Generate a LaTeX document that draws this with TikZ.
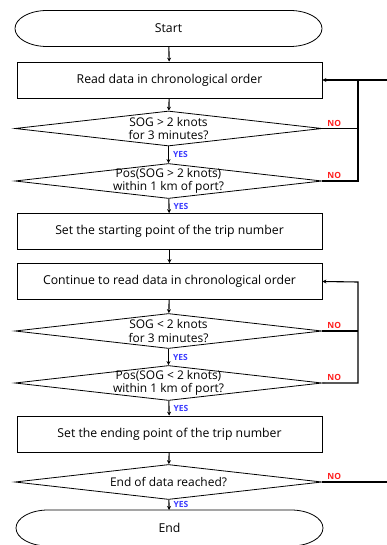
\documentclass[tikz,border=0pt]{standalone}
\usepackage{fontspec}
\setmainfont{Open Sans}
\usetikzlibrary{shapes.geometric,arrows.meta}
\definecolor{yesblue}{RGB}{60,60,255}
\definecolor{nored}{RGB}{255,30,30}
\tikzset{
  procbox/.style={draw, line width=0.8bp, minimum width=305bp, minimum height=36bp, font=\fontsize{12.3}{14}\selectfont},
  decision/.style={draw, shape=diamond, line width=0.8bp, aspect=8.8, minimum width=307bp, minimum height=35bp,
    inner xsep=-24bp, inner ysep=-7bp, align=center, font=\fontsize{12}{13.5}\selectfont},
  terminal/.style={minimum width=307bp, minimum height=36bp, inner sep=0pt, outer sep=0pt, font=\fontsize{12.3}{14}\selectfont,
    append after command={\pgfextra{\let\tnode\tikzlastnode
      \draw[line width=0.8bp] ([xshift=32bp]\tnode.north west) -- ([xshift=-32bp]\tnode.north east)
        arc[start angle=90, end angle=-90, x radius=32bp, y radius=18bp]
        -- ([xshift=32bp]\tnode.south west)
        arc[start angle=270, end angle=90, x radius=32bp, y radius=18bp] -- cycle;}}},
  link/.style={line width=1.1bp},
  flow/.style={link, -{Stealth[length=4bp,width=4bp]}},
  yeslab/.style={right, xshift=2bp, inner sep=2bp, text=yesblue, font=\fontsize{8.5}{9}\selectfont\bfseries},
  nolab/.style={anchor=south west, xshift=3bp, inner sep=1.5bp, text=nored, font=\fontsize{8.5}{9}\selectfont\bfseries}
}
\begin{document}
\begin{tikzpicture}[x=1bp, y=-1bp]
\useasboundingbox (0,0) rectangle (386,545);
\node[terminal] (start) at (168.5,28.5) {Start};
\node[procbox] (read) at (169.5,80) {Read data in chronological order};
\node[decision] (d1) at (168.5,128.5) {SOG > 2 knots\\for 3 minutes?};
\node[decision] (d2) at (168.5,181) {Pos(SOG > 2 knots)\\within 1 km of port?};
\node[procbox] (setstart) at (169.5,231.5) {Set the starting point of the trip number};
\node[procbox] (cont) at (169.5,281.5) {Continue to read data in chronological order};
\node[decision] (d3) at (168.5,331) {SOG < 2 knots\\for 3 minutes?};
\node[decision] (d4) at (168.5,383) {Pos(SOG < 2 knots)\\within 1 km of port?};
\node[procbox] (setend) at (169.5,434) {Set the ending point of the trip number};
\node[decision] (d5) at (168.5,482) {End of data reached?};
\node[terminal] (end) at (169.5,528) {End};
\coordinate (loopA) at (358,80);
\coordinate (loopB) at (358,282);
\coordinate (offR) at (398,80);
% main line
\draw[flow] (start) -- (read);
\draw[flow] (read) -- (d1);
\draw[flow] (d1) -- node[yeslab] (yes1) {YES} (d2);
\draw[flow] (d2) -- node[yeslab] (yes2) {YES} (setstart);
\draw[flow] (setstart) -- (cont);
\draw[flow] (cont) -- (d3);
\draw[flow] (d3) -- node[yeslab] (yes3) {YES} (d4);
\draw[flow] (d4) -- node[yeslab] (yes4) {YES} (setend);
\draw[flow] (setend) -- (d5);
\draw[flow] (d5) -- node[yeslab] (yes5) {YES} (end);
% loops back
\draw[link] (d1.east) node[nolab] (no1) {NO} -- (d1.east -| loopA);
\draw[link] (d2.east) node[nolab] (no2) {NO} -| (loopA);
\draw[link] (d3.east) node[nolab] (no3) {NO} -- (d3.east -| loopB);
\draw[flow] (d4.east) node[nolab] (no4) {NO} -| (loopB) -- (cont.east);
\draw[flow] (d5.east) node[nolab] (no5) {NO} -- (d5.east -| offR) |- (read.east);
\end{tikzpicture}
\end{document}
